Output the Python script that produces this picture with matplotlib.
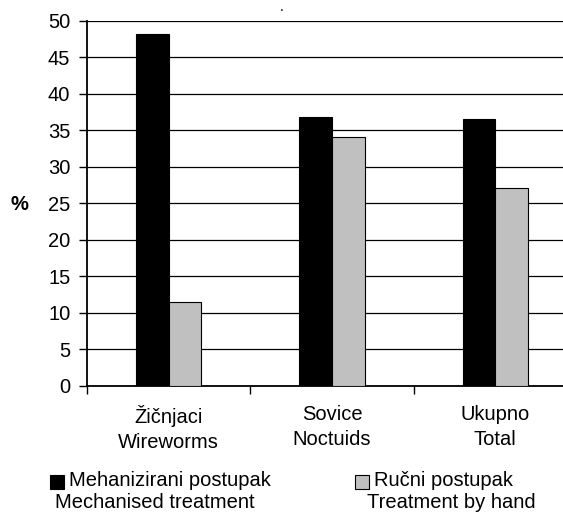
import matplotlib
matplotlib.use("Agg")
from matplotlib import pyplot as plt
from matplotlib.patches import Rectangle
import numpy as np

plt.rcParams["font.family"] = ["Liberation Sans", "DejaVu Sans"]
plt.rcParams["font.size"] = 14.5

categories = ["Žičnjaci\nWireworms", "Sovice\nNoctuids", "Ukupno\nTotal"]
mechanised = [48.2, 36.8, 36.5]
by_hand = [11.5, 34.1, 27.1]
series_labels = [("Mehanizirani postupak", "Mechanised treatment"),
                 ("Ručni postupak", "Treatment by hand")]
colors = ["black", "#c0c0c0"]

W, H = 563, 512
fig = plt.figure(figsize=(W / 100, H / 100), dpi=100)
ax = fig.add_axes([87 / W, 1 - 385.7 / H, 490 / W, 365 / H])

x = np.arange(len(categories))
bw = 0.2
ax.bar(x - bw / 2, mechanised, bw, color=colors[0], edgecolor="black", linewidth=0.8, zorder=3)
ax.bar(x + bw / 2, by_hand, bw, color=colors[1], edgecolor="black", linewidth=0.8, zorder=3)

ax.set_xlim(-0.5, len(categories) - 0.5)
ax.set_ylim(0, 50)
ax.set_yticks(np.arange(0, 51, 5))
ax.yaxis.grid(True, color="black", linewidth=0.9, zorder=0)
ax.set_axisbelow(True)

# boundaries between categories carry the ticks, labels sit in the middle
ax.set_xticks(np.arange(-0.5, len(categories) - 0.4, 1))
ax.set_xticklabels([])
ax.set_xticks(x, categories, minor=True)
for lbl in ax.get_xticklabels(minor=True):
    lbl.set_linespacing(1.4)
ax.tick_params(axis="x", which="minor", length=0, pad=14)
ax.tick_params(axis="x", which="major", length=6, width=1, direction="out")
ax.tick_params(axis="y", length=6, width=1, direction="out", pad=6)

for s in ["top", "right"]:
    ax.spines[s].set_visible(False)
ax.spines["left"].set_linewidth(1.3)
ax.spines["bottom"].set_linewidth(1.3)

fig.text(28 / W, 1 - 205 / H, "%", fontweight="bold", ha="right", va="center")
fig.text(0.5, 1 - 11 / H, ".", ha="center", va="baseline", fontsize=10)

# legend drawn by hand: square marker plus two text lines
legend_pos = [(50, 69, 55), (355, 374, 367)]
for (sq_x, t1_x, t2_x), color, (l1, l2) in zip(legend_pos, colors, series_labels):
    fig.patches.append(Rectangle((sq_x / W, 1 - 489 / H), 14 / W, 14 / H,
                                 transform=fig.transFigure, facecolor=color,
                                 edgecolor="black", linewidth=0.8))
    fig.text(t1_x / W, 1 - 481 / H, l1, ha="left", va="center")
    fig.text(t2_x / W, 1 - 502 / H, l2, ha="left", va="center")

fig.savefig("out.png", dpi=100)
